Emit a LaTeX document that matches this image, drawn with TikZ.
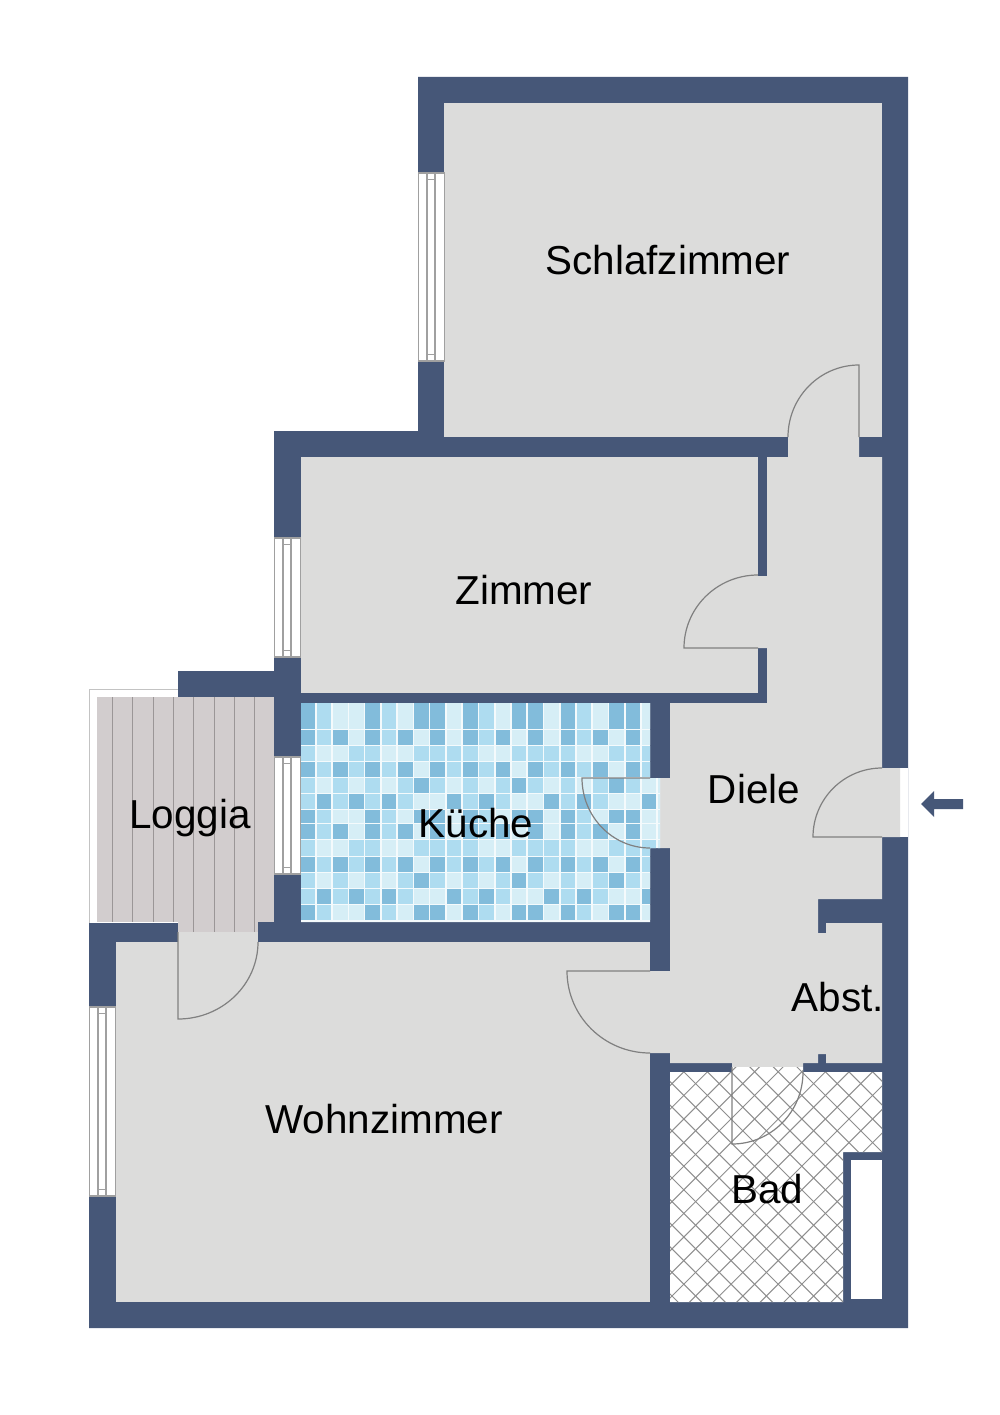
\documentclass[tikz,border=0pt]{standalone}
\usepackage{fontspec}
\setmainfont{Liberation Sans}
\definecolor{wallblue}{RGB}{70,87,120}
\definecolor{roomgray}{RGB}{220,220,219}
\definecolor{doorgray}{RGB}{128,128,128}
\definecolor{winggray}{RGB}{160,160,160}
\definecolor{hatchgray}{RGB}{142,142,142}
\definecolor{railgray}{RGB}{195,195,195}
\definecolor{woodgray}{RGB}{210,205,206}
\definecolor{plankgray}{RGB}{155,150,151}
\definecolor{grout}{RGB}{244,250,252}
\definecolor{tile0}{RGB}{214,238,246}
\definecolor{tile1}{RGB}{174,220,240}
\definecolor{tile2}{RGB}{130,188,219}
\newcommand{\rowA}{2,1,0,0,2,1,0,2,2,0,2,1,0,2,2,0,2,1,0,2,2,0,0}
\newcommand{\rowC}{2,1,2,0,2,1,2,0,2,0,2,1,2,0,2,0,2,1,2,0,2,0,0}
\newcommand{\rowD}{1,0,0,1,1,0,0,1,1,1,1,0,0,1,1,1,1,0,0,1,1,1,0}
\newcommand{\rowE}{2,1,2,1,2,1,2,0,2,1,2,1,2,0,2,1,2,1,2,0,2,1,0}
\newcommand{\rowF}{1,0,1,0,1,0,1,2,1,0,1,0,1,2,1,0,1,0,1,2,1,0,0}
\newcommand{\rowG}{1,2,1,2,1,2,1,0,0,2,1,2,1,0,0,2,1,2,1,0,0,2,0}
\tikzset{
  room/.style={font=\fontsize{40.4}{48}\selectfont,inner sep=0pt,anchor=base},
  door/.style={draw=doorgray,line width=1.2pt},
  wing/.style={draw=winggray,line width=1.2pt},
  hatchline/.style={draw=hatchgray,line width=1pt}
}
\begin{document}
\begin{tikzpicture}[x=1pt,y=-1pt]
        \useasboundingbox (0,0) rectangle (1000,1415);
        \fill[white] (0,0) rectangle (1000,1415);
        % walls
        \fill[wallblue] (418,77)--(908,77)--(908,1328)--(89,1328)--(89,923)--(178,923)--(178,671)--(274,671)--(274,431)--(418,431)--cycle;
        \fill[white] (900,768) rectangle (908,837);
        % rooms
        \fill[roomgray] (444,103) rectangle (882,437);
        \fill[roomgray] (301,457) rectangle (758,693);
        \fill[roomgray] (116,942) rectangle (650,1302);
        \fill[roomgray] (178,932) rectangle (258,942);
        \fill[roomgray] (788,437)--(859,437)--(859,457)--(882,457)--(882,768)--(900,768)--(900,837)--(882,837)--(882,899)--(818,899)--(818,933)--(826,933)--(826,923)--(882,923)--(882,1063)--(826,1063)--(826,1054)--(818,1054)--(818,1063)--(803,1063)--(803,1067)--(732,1067)--(732,1063)--(670,1063)--(670,1053)--(650,1053)--(650,971)--(670,971)--(670,848)--(660,848)--(660,778)--(670,778)--(670,703)--(767,703)--(767,648)--(758,648)--(758,576)--(767,576)--(767,457)--(788,457)--cycle;
        % loggia
        \fill[white] (89,689) rectangle (178,923);
        \fill[woodgray] (97,697) rectangle (274,922);
        \fill[woodgray] (178,922) rectangle (258,932);
        \draw[railgray,line width=1pt] (178,689)--(89.5,689)--(89.5,923);
        \foreach \px in {112,132,153,173}
          \draw[plankgray,line width=1pt] (\px,697)--(\px,922);
        \foreach \px in {193,214,234,254}
          \draw[plankgray,line width=1pt] (\px,697)--(\px,932);
        % kitchen
        \begin{scope}
          \clip (301,703) rectangle (650,922) (650,778) rectangle (660,848);
          \fill[grout] (300,700) rectangle (662,925);
          \foreach \yy/\hh/\tiles in {703/11/\rowA,714/15/\rowA,730/15/\rowC,746/15/\rowD,762/15/\rowE,778/15/\rowF,794/15/\rowG,
              810/13/\rowA,824/15/\rowC,840/16/\rowD,857/15/\rowE,873/15/\rowF,889/15/\rowG,905/15/\rowA}{
            \edef\tilelist{\tiles}
            \foreach \k [count=\c from 0] in \tilelist
              \fill[tile\k] ({300.4+16.26*\c},\yy) rectangle +(14.6,\hh);
          }
        \end{scope}
        % bath
        \fill[white] (670,1072)--(732,1072)--(732,1067)--(803,1067)--(803,1072)--(882,1072)--(882,1152)--(843,1152)--(843,1302)--(670,1302)--cycle;
        \begin{scope}
          \clip (670,1072)--(732,1072)--(732,1067)--(803,1067)--(803,1072)--(882,1072)--(882,1152)--(843,1152)--(843,1302)--(670,1302)--cycle;
          \foreach \hx in {0,...,30}{
            \draw[hatchline] ({436+23.6*\hx},1060)--+(260,260);
            \draw[hatchline] ({436+23.6*\hx},1060)--+(-260,260);
          }
        \end{scope}
        \fill[white] (851,1160) rectangle (882,1299);
        % windows
        \foreach \wx/\wt/\wb in {418/173/361,274/538/657,274/757/874,89/1007/1196}{
          \draw[wing,fill=white] (\wx+.5,\wt) rectangle (\wx+26.5,\wb);
          \draw[wing] (\wx+9,\wt)--(\wx+9,\wb);
          \draw[wing] (\wx+17,\wt)--(\wx+17,\wb);
          \draw[wing] (\wx+9,\wt+6.5)--(\wx+17,\wt+6.5);
          \draw[wing] (\wx+9,\wb-6.5)--(\wx+17,\wb-6.5);
        }
        % doors
        \draw[door] (859,437)--(859,365) arc[start angle=270,end angle=180,x radius=71,y radius=72];
        \draw[door] (758,648)--(684,648) arc[start angle=180,end angle=270,x radius=74,y radius=73];
        \draw[door] (882,837)--(813,837) arc[start angle=180,end angle=270,radius=69];
        \draw[door] (650,778)--(582,778) arc[start angle=180,end angle=90,x radius=68,y radius=70];
        \draw[door] (650,971)--(567,971) arc[start angle=180,end angle=90,x radius=83,y radius=82];
        \draw[door] (178,932)--(178,1019) arc[start angle=90,end angle=0,x radius=80,y radius=77];
        \draw[door] (732,1067)--(732,1144) arc[start angle=90,end angle=0,x radius=71,y radius=72];
        % entrance
        \fill[wallblue] (921,804)--(934,791)--(934,799)--(963,799)--(963,809)--(934,809)--(934,817)--cycle;
        % labels
        \node[room] (schlafzimmer) at (668,274) {Schlafzimmer};
        \node[room] (zimmer) at (524,604) {Zimmer};
        \node[room] (loggia) at (190,828) {Loggia};
        \node[room] (kueche) at (476,837) {Küche};
        \node[room] (diele) at (754,803) {Diele};
        \node[room] (abst) at (838,1011) {Abst.};
        \node[room] (wohnzimmer) at (384,1133) {Wohnzimmer};
        \node[room] (bad) at (767,1203) {Bad};
        \end{tikzpicture}
\end{document}
